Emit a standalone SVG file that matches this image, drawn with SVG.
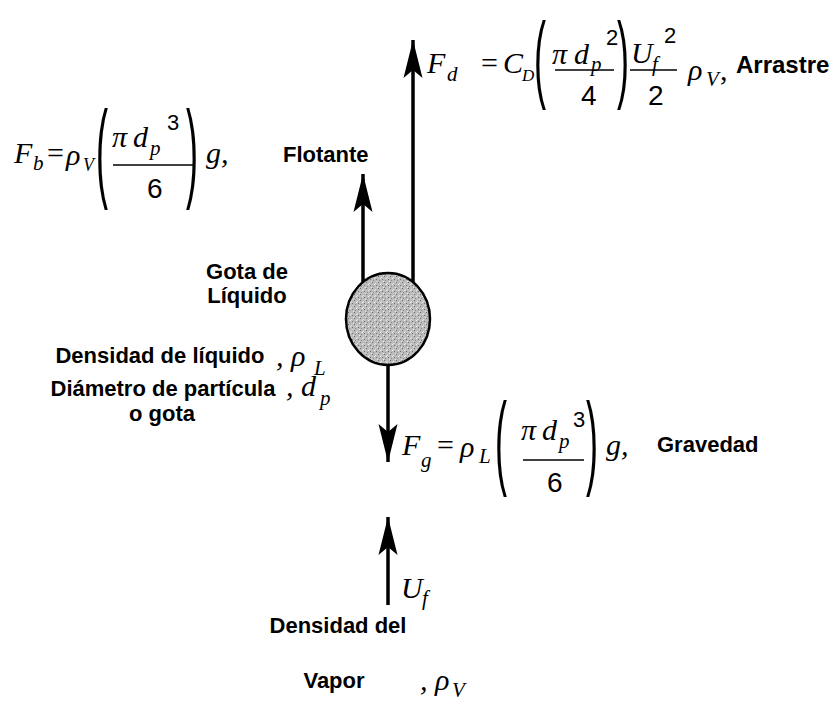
<svg xmlns="http://www.w3.org/2000/svg" width="837" height="711" viewBox="0 0 837 711">
<defs>
<style>
.lbl{font-family:"Liberation Sans",Arial,sans-serif;font-weight:bold;font-size:22px;fill:#000}
.m{font-family:"Liberation Serif","Times New Roman",serif;font-style:italic;font-size:30px;fill:#000}
.s{font-family:"Liberation Serif","Times New Roman",serif;font-style:italic;font-size:21px;fill:#000}
.op{font-family:"Liberation Serif","Times New Roman",serif;font-size:30px;fill:#000}
.n{font-family:"Liberation Sans",Arial,sans-serif;font-size:28px;fill:#000}
.sup{font-family:"Liberation Sans",Arial,sans-serif;font-size:22px;fill:#000}
.par{font-family:"Liberation Sans",Arial,sans-serif;font-size:36px;fill:#000}
.fr{stroke:#000;stroke-width:1.5}
.arr{stroke:#000;stroke-width:3.5;fill:none;marker-end:url(#head)}
</style>
<marker id="head" markerUnits="userSpaceOnUse" markerWidth="50" markerHeight="30" refX="40" refY="12" orient="auto" overflow="visible">
<path d="M40,12 L2,2.5 L10,12 L2,21.5 Z" fill="#000"/>
</marker>
<pattern id="stip" width="6" height="6" patternUnits="userSpaceOnUse">
<rect width="6" height="6" fill="#bcbcbc"/>
<rect x="0" y="0" width="1" height="1" fill="#6a6a6a"/>
<rect x="3" y="1" width="1" height="1" fill="#e4e4e4"/>
<rect x="4" y="3" width="1" height="1" fill="#707070"/>
<rect x="1" y="4" width="1" height="1" fill="#888"/>
<rect x="2" y="2" width="1" height="1" fill="#f0f0f0"/>
<rect x="5" y="5" width="1" height="1" fill="#e8e8e8"/>
</pattern>
</defs>
<rect width="837" height="711" fill="#fff"/>

<g id="connectors">
<line class="arr" x1="363" y1="285" x2="363" y2="174"/>
<line class="arr" x1="413" y1="285" x2="413" y2="40"/>
<line class="arr" x1="388" y1="362" x2="388" y2="462"/>
<line class="arr" x1="388" y1="605" x2="388" y2="517"/>
</g>

<g id="drop">
<ellipse cx="388" cy="319" rx="42" ry="46" fill="url(#stip)" stroke="#000" stroke-width="2.5"/>
</g>

<g id="eq-drag">
<text class="m" x="427" y="73">F</text>
<text class="s" x="447" y="81">d</text>
<text class="op" x="481" y="73">=</text>
<text class="m" x="503" y="73">C</text>
<text class="s" x="522" y="81" style="font-size:17px">D</text>
<text class="par" transform="translate(534,90) scale(1,2.66)">(</text>
<text class="m" x="552" y="64">π</text>
<text class="m" x="574" y="64">d</text>
<text class="s" x="591" y="71">p</text>
<text class="sup" x="606" y="45">2</text>
<line class="fr" x1="555" y1="70" x2="614" y2="70"/>
<text class="n" x="581" y="105">4</text>
<text class="par" transform="translate(617,90) scale(1,2.66)">)</text>
<text class="m" x="631" y="63">U</text>
<text class="s" x="652" y="71">f</text>
<text class="sup" x="664" y="43">2</text>
<line class="fr" x1="630" y1="70" x2="677" y2="70"/>
<text class="n" x="648" y="105">2</text>
<text class="m" x="688" y="80">ρ</text>
<text class="s" x="706" y="86">V</text>
<text class="op" x="720" y="80">,</text>
<text class="lbl" x="736" y="73" style="font-size:24px">Arrastre</text>
</g>

<g id="eq-buoyancy">
<text class="m" x="14" y="163">F</text>
<text class="s" x="33" y="170">b</text>
<text class="op" x="47" y="163">=</text>
<text class="m" x="66" y="165">ρ</text>
<text class="s" x="83" y="171" style="font-size:18px">V</text>
<text class="par" transform="translate(96,187) scale(1,3.05)">(</text>
<text class="m" x="112" y="147">π</text>
<text class="m" x="133" y="147">d</text>
<text class="s" x="150" y="155">p</text>
<text class="sup" x="167" y="130">3</text>
<line class="fr" x1="113" y1="165" x2="193" y2="165"/>
<text class="n" x="147" y="198">6</text>
<text class="par" transform="translate(186,187) scale(1,3.05)">)</text>
<text class="m" x="206" y="163">g,</text>
</g>
<g id="label-flotante"><text class="lbl" x="283" y="162">Flotante</text></g>

<g id="label-gota">
<text class="lbl" x="247" y="279" text-anchor="middle">Gota de</text>
<text class="lbl" x="247" y="303" text-anchor="middle">Líquido</text>
</g>

<g id="label-props">
<text class="lbl" x="160" y="363" text-anchor="middle">Densidad de líquido</text>
<text class="m" x="276" y="366">, ρ</text>
<text class="s" x="314" y="375">L</text>
<text class="lbl" x="163" y="396" text-anchor="middle">Diámetro de partícula</text>
<text class="m" x="286" y="396">, d</text>
<text class="s" x="320" y="405">p</text>
<text class="lbl" x="162" y="421" text-anchor="middle">o gota</text>
</g>

<g id="eq-gravity">
<text class="m" x="402" y="455">F</text>
<text class="s" x="421" y="467">g</text>
<text class="op" x="437" y="455">=</text>
<text class="m" x="460" y="457">ρ</text>
<text class="s" x="479" y="463">L</text>
<text class="par" transform="translate(495,475) scale(1,2.87)">(</text>
<text class="m" x="521" y="440">π</text>
<text class="m" x="542" y="440">d</text>
<text class="s" x="559" y="448">p</text>
<text class="sup" x="573" y="427">3</text>
<line class="fr" x1="523" y1="460" x2="584" y2="460"/>
<text class="n" x="547" y="492">6</text>
<text class="par" transform="translate(586,475) scale(1,2.87)">)</text>
<text class="m" x="606" y="455">g,</text>
<text class="lbl" x="657" y="452">Gravedad</text>
</g>

<g id="label-uf">
<text class="m" x="401" y="598">U</text>
<text class="s" x="422" y="605">f</text>
</g>

<g id="label-vapor">
<text class="lbl" x="338" y="633" text-anchor="middle">Densidad del</text>
<text class="lbl" x="334" y="688" text-anchor="middle">Vapor</text>
<text class="m" x="420" y="690">, ρ</text>
<text class="s" x="452" y="697">V</text>
</g>
</svg>
